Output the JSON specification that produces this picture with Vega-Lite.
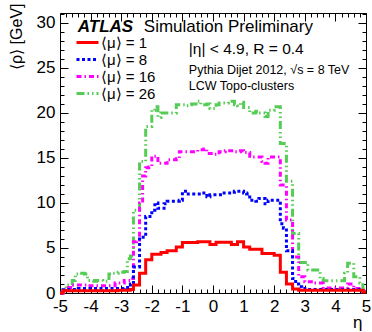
{
"$schema": "https://vega.github.io/schema/vega-lite/v6.json",
"width": 306, "height": 280,
"autosize": "none",
"padding": {"left": 60, "top": 13, "right": 6, "bottom": 39},
"config": {
 "view": {"stroke": "black", "strokeWidth": 1},
 "axis": {"grid": false, "domain": false, "tickColor": "black", "tickWidth": 1, "labelColor": "black", "labelFont": "Liberation Sans", "labelFontSize": 17, "titleFont": "Liberation Sans", "titleFontSize": 16, "titleFontWeight": "normal", "titleColor": "black", "labelFlush": false, "labelOverlap": false}
},
"resolve": {"axis": {"x": "independent", "y": "independent"}},
"layer": [
 {
  "data": {"values": [
{"eta":-5.0,"1":0,"8":0,"16":0,"26":0},
{"eta":-4.9,"1":0.25,"8":0.35,"16":0.3,"26":0.3},
{"eta":-4.8,"1":0.25,"8":0.4,"16":0.6,"26":0.9},
{"eta":-4.7,"1":0.25,"8":0.4,"16":0.6,"26":0.9},
{"eta":-4.6,"1":0.25,"8":0.4,"16":0.9,"26":1.4},
{"eta":-4.5,"1":0.25,"8":0.4,"16":0.9,"26":2.1},
{"eta":-4.4,"1":0.25,"8":0.5,"16":0.9,"26":2.2},
{"eta":-4.3,"1":0.25,"8":0.5,"16":0.9,"26":2.2},
{"eta":-4.2,"1":0.25,"8":0.5,"16":0.9,"26":2.1},
{"eta":-4.1,"1":0.25,"8":0.5,"16":0.8,"26":1.4},
{"eta":-4.0,"1":0.25,"8":0.5,"16":0.8,"26":1.4},
{"eta":-3.9,"1":0.25,"8":0.5,"16":0.8,"26":1.3},
{"eta":-3.8,"1":0.25,"8":0.5,"16":0.8,"26":1.4},
{"eta":-3.7,"1":0.25,"8":0.5,"16":0.8,"26":1.4},
{"eta":-3.6,"1":0.25,"8":0.5,"16":0.8,"26":1.3},
{"eta":-3.5,"1":0.25,"8":0.5,"16":0.8,"26":1.3},
{"eta":-3.4,"1":0.25,"8":0.5,"16":0.8,"26":2.1},
{"eta":-3.3,"1":0.25,"8":0.5,"16":0.8,"26":2.2},
{"eta":-3.2,"1":0.25,"8":0.5,"16":1.1,"26":2.2},
{"eta":-3.1,"1":0.3,"8":0.5,"16":1.1,"26":2.3},
{"eta":-3.0,"1":0.3,"8":0.5,"16":1.1,"26":2.3},
{"eta":-2.9,"1":0.3,"8":0.6,"16":1.4,"26":2.4},
{"eta":-2.8,"1":0.3,"8":0.6,"16":1.4,"26":3.8},
{"eta":-2.7,"1":0.4,"8":1.0,"16":1.6,"26":4.1},
{"eta":-2.6,"1":0.9,"8":2.9,"16":5.7,"26":9.2},
{"eta":-2.5,"1":0.9,"8":2.9,"16":5.9,"26":9.2},
{"eta":-2.4,"1":2.2,"8":6.2,"16":10.0,"26":14.6},
{"eta":-2.3,"1":2.2,"8":6.2,"16":13.0,"26":14.6},
{"eta":-2.2,"1":3.7,"8":8.5,"16":13.9,"26":18.5},
{"eta":-2.1,"1":3.7,"8":8.5,"16":14.0,"26":18.5},
{"eta":-2.0,"1":4.3,"8":9.2,"16":15.2,"26":20.3},
{"eta":-1.9,"1":4.3,"8":10.0,"16":15.2,"26":20.7},
{"eta":-1.8,"1":4.3,"8":9.4,"16":14.4,"26":19.5},
{"eta":-1.7,"1":4.5,"8":9.4,"16":14.4,"26":20.0},
{"eta":-1.6,"1":4.5,"8":9.9,"16":14.4,"26":20.0},
{"eta":-1.5,"1":4.7,"8":10.2,"16":14.8,"26":20.0},
{"eta":-1.4,"1":4.7,"8":10.2,"16":14.8,"26":20.0},
{"eta":-1.3,"1":4.7,"8":10.2,"16":14.8,"26":20.0},
{"eta":-1.2,"1":5.1,"8":10.2,"16":14.9,"26":20.9},
{"eta":-1.1,"1":5.1,"8":10.3,"16":15.7,"26":20.9},
{"eta":-1.0,"1":5.6,"8":11.3,"16":15.7,"26":20.9},
{"eta":-0.9,"1":5.6,"8":11.0,"16":15.7,"26":20.8},
{"eta":-0.8,"1":5.6,"8":11.0,"16":15.7,"26":20.9},
{"eta":-0.7,"1":5.6,"8":11.0,"16":15.7,"26":21.0},
{"eta":-0.6,"1":5.6,"8":11.0,"16":15.7,"26":21.0},
{"eta":-0.5,"1":5.7,"8":11.0,"16":15.9,"26":21.3},
{"eta":-0.4,"1":5.7,"8":11.1,"16":15.9,"26":20.9},
{"eta":-0.3,"1":5.7,"8":11.1,"16":16.0,"26":20.9},
{"eta":-0.2,"1":5.7,"8":10.7,"16":15.5,"26":21.0},
{"eta":-0.1,"1":5.4,"8":10.9,"16":15.5,"26":20.5},
{"eta":0.0,"1":5.4,"8":10.9,"16":15.4,"26":20.5},
{"eta":0.1,"1":5.65,"8":10.9,"16":15.4,"26":20.9},
{"eta":0.2,"1":5.65,"8":10.9,"16":15.7,"26":21.1},
{"eta":0.3,"1":5.65,"8":11.1,"16":15.7,"26":21.1},
{"eta":0.4,"1":5.65,"8":11.1,"16":15.8,"26":21.1},
{"eta":0.5,"1":5.65,"8":11.1,"16":15.8,"26":21.3},
{"eta":0.6,"1":5.4,"8":11.2,"16":15.8,"26":21.3},
{"eta":0.7,"1":5.4,"8":11.3,"16":15.7,"26":20.9},
{"eta":0.8,"1":5.7,"8":11.3,"16":15.7,"26":20.8},
{"eta":0.9,"1":5.7,"8":11.3,"16":15.8,"26":21.2},
{"eta":1.0,"1":5.1,"8":11.1,"16":15.6,"26":20.6},
{"eta":1.1,"1":5.1,"8":11.0,"16":15.6,"26":20.6},
{"eta":1.2,"1":4.85,"8":10.3,"16":15.2,"26":20.0},
{"eta":1.3,"1":4.85,"8":10.3,"16":15.1,"26":20.0},
{"eta":1.4,"1":4.85,"8":10.2,"16":15.1,"26":20.2},
{"eta":1.5,"1":4.85,"8":10.5,"16":15.1,"26":20.0},
{"eta":1.6,"1":4.4,"8":10.5,"16":14.6,"26":20.0},
{"eta":1.7,"1":4.4,"8":9.9,"16":14.4,"26":19.6},
{"eta":1.8,"1":4.4,"8":10.3,"16":15.1,"26":20.3},
{"eta":1.9,"1":4.4,"8":10.3,"16":15.1,"26":20.3},
{"eta":2.0,"1":4.2,"8":10.3,"16":15.1,"26":20.7},
{"eta":2.1,"1":4.2,"8":10.3,"16":15.1,"26":20.7},
{"eta":2.2,"1":2.3,"8":7.7,"16":12.0,"26":16.6},
{"eta":2.3,"1":2.3,"8":7.2,"16":12.0,"26":16.6},
{"eta":2.4,"1":1.0,"8":4.7,"16":8.1,"26":12.4},
{"eta":2.5,"1":1.0,"8":4.7,"16":8.1,"26":12.4},
{"eta":2.6,"1":0.45,"8":1.6,"16":4.0,"26":6.6},
{"eta":2.7,"1":0.45,"8":1.0,"16":4.0,"26":6.6},
{"eta":2.8,"1":0.3,"8":0.7,"16":1.8,"26":3.4},
{"eta":2.9,"1":0.3,"8":0.5,"16":1.8,"26":3.4},
{"eta":3.0,"1":0.3,"8":0.4,"16":1.25,"26":3.4},
{"eta":3.1,"1":0.3,"8":0.4,"16":1.25,"26":2.55},
{"eta":3.2,"1":0.3,"8":0.4,"16":1.25,"26":2.55},
{"eta":3.3,"1":0.3,"8":0.4,"16":1.1,"26":2.55},
{"eta":3.4,"1":0.3,"8":0.4,"16":1.1,"26":2.55},
{"eta":3.5,"1":0.3,"8":0.4,"16":1.1,"26":1.6},
{"eta":3.6,"1":0.3,"8":0.4,"16":0.55,"26":1.35},
{"eta":3.7,"1":0.3,"8":0.4,"16":0.55,"26":1.35},
{"eta":3.8,"1":0.3,"8":0.4,"16":0.55,"26":1.35},
{"eta":3.9,"1":0.3,"8":0.4,"16":0.55,"26":1.35},
{"eta":4.0,"1":0.3,"8":0.4,"16":0.55,"26":1.35},
{"eta":4.1,"1":0.3,"8":0.4,"16":0.55,"26":1.35},
{"eta":4.2,"1":0.3,"8":0.4,"16":0.55,"26":1.35},
{"eta":4.3,"1":0.3,"8":0.4,"16":0.55,"26":2.2},
{"eta":4.4,"1":0.3,"8":0.4,"16":1.0,"26":3.3},
{"eta":4.5,"1":0.3,"8":0.4,"16":1.0,"26":3.3},
{"eta":4.6,"1":0.3,"8":0.4,"16":0.5,"26":1.8},
{"eta":4.7,"1":0.3,"8":0.4,"16":0.5,"26":1.8},
{"eta":4.8,"1":0.3,"8":0.4,"16":0.5,"26":1.1},
{"eta":4.9,"1":0.1,"8":0.2,"16":0.2,"26":0.4},
{"eta":5.0,"1":0.1,"8":0.2,"16":0.2,"26":0.4}
  ]},
  "transform": [{"fold": ["26", "16", "8", "1"], "as": ["mu", "rho"]}],
  "mark": {"type": "line", "interpolate": "step-after", "strokeCap": "butt", "strokeJoin": "miter"},
  "encoding": {
   "x": {"field": "eta", "type": "quantitative", "scale": {"domain": [-5, 5], "nice": false, "zero": false},
    "axis": {"orient": "bottom", "values": [-5,-4,-3,-2,-1,0,1,2,3,4,5], "tickSize": -8, "labelPadding": 13, "labelExpr": "toString(datum.value)", "title": "η", "titleAnchor": "end", "titlePadding": 0, "titleFontSize": 17, "titleX": 302}},
   "y": {"field": "rho", "type": "quantitative", "scale": {"domain": [0, 31.1], "nice": false, "zero": false},
    "axis": {"orient": "left", "values": [0,5,10,15,20,25,30], "tickSize": -8, "labelPadding": 13, "title": "⟨ρ⟩ [GeV]", "titleAnchor": "end", "titlePadding": 12, "titleFontSize": 16, "titleY": -10}},
   "color": {"field": "mu", "type": "nominal",
    "scale": {"domain": ["1", "8", "16", "26"], "range": ["#ff0000", "#0000ff", "#ff00ff", "#55cc55"]},
    "legend": {"orient": "none", "legendX": 20, "legendY": 22, "title": null, "symbolType": "M-2,0H2", "symbolSize": 121, "labelFont": "Liberation Sans", "labelFontSize": 15, "labelColor": "black", "labelExpr": "'⟨μ⟩ = ' + datum.label", "rowPadding": 1, "labelOffset": 6, "padding": 0}},
   "strokeDash": {"field": "mu", "type": "nominal",
    "scale": {"domain": ["1", "8", "16", "26"], "range": [[1, 0], [3, 2.5], [5, 3, 1.5, 3], [8, 3, 1.5, 3, 1.5, 3]]},
    "legend": {"orient": "none", "legendX": 20, "legendY": 22, "title": null, "symbolType": "M-2,0H2", "symbolSize": 121, "labelFont": "Liberation Sans", "labelFontSize": 15, "labelColor": "black", "labelExpr": "'⟨μ⟩ = ' + datum.label", "rowPadding": 1, "labelOffset": 6, "padding": 0}},
   "strokeWidth": {"field": "mu", "type": "ordinal",
    "scale": {"domain": ["1", "8", "16", "26"], "range": [3, 3, 2, 2]},
    "legend": {"orient": "none", "legendX": 20, "legendY": 22, "title": null, "symbolType": "M-2,0H2", "symbolSize": 121, "labelFont": "Liberation Sans", "labelFontSize": 15, "labelColor": "black", "labelExpr": "'⟨μ⟩ = ' + datum.label", "rowPadding": 1, "labelOffset": 6, "padding": 0}}
  }
 },
 {
  "data": {"values": [{}]},
  "mark": {"type": "point", "opacity": 0},
  "encoding": {
   "x": {"datum": 0, "type": "quantitative", "scale": {"domain": [-5, 5], "nice": false, "zero": false},
    "axis": {"orient": "bottom", "values": [-4.8,-4.6,-4.4,-4.2,-3.8,-3.6,-3.4,-3.2,-2.8,-2.6,-2.4,-2.2,-1.8,-1.6,-1.4,-1.2,-0.8,-0.6,-0.4,-0.2,0.2,0.4,0.6,0.8,1.2,1.4,1.6,1.8,2.2,2.4,2.6,2.8,3.2,3.4,3.6,3.8,4.2,4.4,4.6,4.8], "tickSize": -4, "labels": false, "title": null}},
   "y": {"datum": 0, "type": "quantitative", "scale": {"domain": [0, 31.1], "nice": false, "zero": false},
    "axis": {"orient": "left", "values": [1,2,3,4,6,7,8,9,11,12,13,14,16,17,18,19,21,22,23,24,26,27,28,29,31], "tickSize": -4, "labels": false, "title": null}}
  }
 },
 {
  "data": {"values": [{}]},
  "mark": {"type": "point", "opacity": 0},
  "encoding": {
   "x": {"datum": 0, "type": "quantitative", "scale": {"domain": [-5, 5], "nice": false, "zero": false},
    "axis": {"orient": "top", "values": [-5,-4,-3,-2,-1,0,1,2,3,4,5], "tickSize": -8, "labels": false, "title": null}},
   "y": {"datum": 0, "type": "quantitative", "scale": {"domain": [0, 31.1], "nice": false, "zero": false},
    "axis": {"orient": "right", "values": [0,5,10,15,20,25,30], "tickSize": -8, "labels": false, "title": null}}
  }
 },
 {
  "data": {"values": [{}]},
  "mark": {"type": "point", "opacity": 0},
  "encoding": {
   "x": {"datum": 0, "type": "quantitative", "scale": {"domain": [-5, 5], "nice": false, "zero": false},
    "axis": {"orient": "top", "values": [-4.8,-4.6,-4.4,-4.2,-3.8,-3.6,-3.4,-3.2,-2.8,-2.6,-2.4,-2.2,-1.8,-1.6,-1.4,-1.2,-0.8,-0.6,-0.4,-0.2,0.2,0.4,0.6,0.8,1.2,1.4,1.6,1.8,2.2,2.4,2.6,2.8,3.2,3.4,3.6,3.8,4.2,4.4,4.6,4.8], "tickSize": -4, "labels": false, "title": null}},
   "y": {"datum": 0, "type": "quantitative", "scale": {"domain": [0, 31.1], "nice": false, "zero": false},
    "axis": {"orient": "right", "values": [1,2,3,4,6,7,8,9,11,12,13,14,16,17,18,19,21,22,23,24,26,27,28,29,31], "tickSize": -4, "labels": false, "title": null}}
  }
 },
 {
  "data": {"values": [{}]},
  "mark": {"type": "text", "align": "left", "baseline": "alphabetic", "font": "Liberation Sans", "fontSize": 17, "fontWeight": "bold", "fontStyle": "italic", "color": "black"},
  "encoding": {
   "x": {"datum": -4.42, "type": "quantitative", "axis": null},
   "y": {"datum": 29.0, "type": "quantitative", "axis": null},
   "text": {"value": "ATLAS"}
  }
 },
 {
  "data": {"values": [{}]},
  "mark": {"type": "text", "align": "left", "baseline": "alphabetic", "font": "Liberation Sans", "fontSize": 17, "color": "black"},
  "encoding": {
   "x": {"datum": -2.26, "type": "quantitative", "axis": null},
   "y": {"datum": 29.0, "type": "quantitative", "axis": null},
   "text": {"value": "Simulation Preliminary"}
  }
 },
 {
  "data": {"values": [{}]},
  "mark": {"type": "text", "align": "left", "baseline": "alphabetic", "font": "Liberation Sans", "fontSize": 15.5, "color": "black"},
  "encoding": {
   "x": {"datum": -0.79, "type": "quantitative", "axis": null},
   "y": {"datum": 26.5, "type": "quantitative", "axis": null},
   "text": {"value": "|η| < 4.9, R = 0.4"}
  }
 },
 {
  "data": {"values": [{}]},
  "mark": {"type": "text", "align": "left", "baseline": "alphabetic", "font": "Liberation Sans", "fontSize": 12.5, "color": "black"},
  "encoding": {
   "x": {"datum": -0.79, "type": "quantitative", "axis": null},
   "y": {"datum": 24.33, "type": "quantitative", "axis": null},
   "text": {"value": "Pythia Dijet 2012, √s = 8 TeV"}
  }
 },
 {
  "data": {"values": [{}]},
  "mark": {"type": "text", "align": "left", "baseline": "alphabetic", "font": "Liberation Sans", "fontSize": 12.5, "color": "black"},
  "encoding": {
   "x": {"datum": -0.79, "type": "quantitative", "axis": null},
   "y": {"datum": 22.55, "type": "quantitative", "axis": null},
   "text": {"value": "LCW Topo-clusters"}
  }
 }
]
}
